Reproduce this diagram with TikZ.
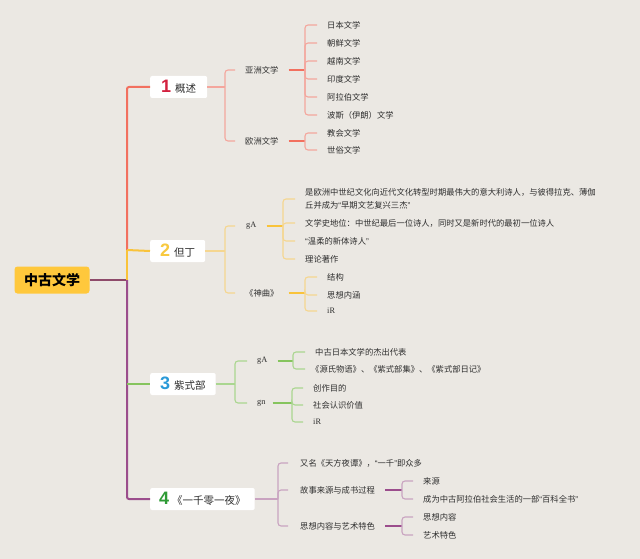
\documentclass[tikz,border=0pt]{standalone}
\usepackage{fontspec}
\setmainfont{Liberation Serif}
\newfontfamily\cjk{Noto Sans CJK SC}
\newfontfamily\numf{Liberation Sans}
\newcommand{\myLQ}{{\numf “}}
\newcommand{\myRQ}{{\numf ”}}
\definecolor{bg}{HTML}{EBE8E3}
\definecolor{rootfill}{HTML}{FFC83C}
\definecolor{txt}{HTML}{2E2E2E}
\definecolor{rootln}{HTML}{8E4A6A}
\definecolor{cA}{HTML}{F2705F}
\definecolor{cAl}{HTML}{F4A69D}
\definecolor{nA}{HTML}{D3213F}
\definecolor{cB}{HTML}{F9C33A}
\definecolor{cBl}{HTML}{F5D690}
\definecolor{nB}{HTML}{F8C93F}
\definecolor{cC}{HTML}{86C45E}
\definecolor{cCl}{HTML}{AAD690}
\definecolor{nC}{HTML}{2A9AD8}
\definecolor{cD}{HTML}{9B4D8C}
\definecolor{cDl}{HTML}{C9A3C0}
\definecolor{nD}{HTML}{2E9B35}
\begin{document}
\begin{tikzpicture}[x=1pt,y=-1pt,
  leaf/.style={anchor=west, inner sep=0pt, text=txt, font=\cjk\fontsize{8.3}{12.5}\selectfont},
  ser/.style={anchor=west, inner sep=0pt, text=txt, font=\fontsize{8.3}{10}\selectfont},
  boxnode/.style={anchor=west, fill=white, rounded corners=2pt, minimum height=22pt, inner ysep=0pt, text=txt, font=\cjk\fontsize{10.5}{12}\selectfont},
  trunk/.style={line width=2pt},
  br/.style={line width=1.1pt, rounded corners=3pt},
  stub/.style={line width=1.2pt}
]
\fill[bg] (0,0) rectangle (640,559);
\useasboundingbox (0,0) rectangle (640,559);

% root
\node[fill=rootfill, rounded corners=3pt, minimum width=75pt, minimum height=27pt, inner sep=0pt, font=\cjk\bfseries\fontsize{14}{16}\selectfont, text=black] (r) at (52,280) {中古文学};
\coordinate (t2) at (127,250);
\coordinate (t3) at (127,280);
\coordinate (t4) at (127,384);

% main boxes
\node[boxnode, inner xsep=11pt] (b1) at (150,87) {{\color{nA}\numf\bfseries\fontsize{18}{18}\selectfont 1}\hspace{4pt}概述};
\node[boxnode, inner xsep=10pt] (b2) at (150,251) {{\color{nB}\numf\bfseries\fontsize{18}{18}\selectfont 2}\hspace{4pt}但丁};
\node[boxnode, inner xsep=10pt] (b3) at (150,384) {{\color{nC}\numf\bfseries\fontsize{18}{18}\selectfont 3}\hspace{4pt}紫式部};
\node[boxnode, inner xsep=9pt] (b4) at (150,499) {{\color{nD}\numf\bfseries\fontsize{18}{18}\selectfont 4}\hspace{3pt}《一千零一夜》};

% trunk
\draw[trunk, rootln] (r.east) -- (t3);
\draw[trunk, cA, rounded corners=2pt] (t2) |- (b1.west);
\draw[trunk, cB] (t2) -- (t3);
\draw[trunk, cB] (t2) -- (b2.west);
\draw[trunk, cD, rounded corners=2pt] (t3) |- (b4.west);
\draw[trunk, cC] (t4) -- (b3.west);

% ---------- branch 1
\coordinate (j1) at (225,87);
\node[leaf] (asia) at (245,70) {亚洲文学};
\node[leaf] (euro) at (245,141) {欧洲文学};
\draw[stub, cAl] (b1.east) -- (j1);
\draw[br, cAl] (j1) |- ([xshift=-10pt]asia.west);
\draw[br, cAl] (j1) |- ([xshift=-10pt]euro.west);

\coordinate (ja) at (305,70);
\node[leaf] (a1) at (327,25) {日本文学};
\node[leaf] (a2) at (327,43) {朝鲜文学};
\node[leaf] (a3) at (327,61) {越南文学};
\node[leaf] (a4) at (327,79) {印度文学};
\node[leaf] (a5) at (327,97) {阿拉伯文学};
\node[leaf] (a6) at (327,115) {波斯（伊朗）文学};
\draw[stub, cA] ([xshift=10pt]asia.east) -- (ja);
\foreach \n in {a1,a2,a3,a4,a5,a6}{\draw[br, cAl] (ja) |- ([xshift=-10pt]\n.west);}

\coordinate (je) at (305,141);
\node[leaf] (e1) at (327,133) {教会文学};
\node[leaf] (e2) at (327,150) {世俗文学};
\draw[stub, cA] ([xshift=10pt]euro.east) -- (je);
\foreach \n in {e1,e2}{\draw[br, cAl] (je) |- ([xshift=-10pt]\n.west);}

% ---------- branch 2
\coordinate (j2) at (225,251);
\node[ser] (dA) at (246,226) {gA};
\node[leaf] (dB) at (245,293) {《神曲》};
\draw[stub, cBl] (b2.east) -- (j2);
\draw[br, cBl] (j2) |- ([xshift=-11pt]dA.west);
\draw[br, cBl] (j2) |- ([xshift=-10pt]dB.west);

\coordinate (jdA) at (283,226);
\node[leaf, align=left] (d1) at (305,199) {是欧洲中世纪文化向近代文化转型时期最伟大的意大利诗人，与彼得拉克、薄伽\\丘并成为\myLQ 早期文艺复兴三杰\myRQ};
\node[leaf] (d2) at (305,223) {文学史地位：中世纪最后一位诗人，同时又是新时代的最初一位诗人};
\node[leaf] (d3) at (305,241) {\myLQ 温柔的新体诗人\myRQ};
\node[leaf] (d4) at (305,259) {理论著作};
\draw[stub, cB] ([xshift=10pt]dA.east) -- (jdA);
\foreach \n in {d1,d2,d3,d4}{\draw[br, cBl] (jdA) |- ([xshift=-10pt]\n.west);}

\coordinate (jdB) at (305,293);
\node[leaf] (s1) at (327,277) {结构};
\node[leaf] (s2) at (327,295) {思想内涵};
\node[ser] (s3) at (327,311) {iR};
\draw[stub, cB] ([xshift=10pt]dB.east) -- (jdB);
\foreach \n in {s1,s2,s3}{\draw[br, cBl] (jdB) |- ([xshift=-10pt]\n.west);}

% ---------- branch 3
\coordinate (j3) at (235,384);
\node[ser] (mA) at (257,361) {gA};
\node[ser] (mB) at (257,403) {gn};
\draw[stub, cCl] (b3.east) -- (j3);
\draw[br, cCl] (j3) |- ([xshift=-10pt]mA.west);
\draw[br, cCl] (j3) |- ([xshift=-10pt]mB.west);

\coordinate (jmA) at (293,361);
\node[leaf] (m1) at (315,352) {中古日本文学的杰出代表};
\node[leaf] (m2) at (311,369) {《源氏物语》、《紫式部集》、《紫式部日记》};
\draw[stub, cC] ([xshift=10pt]mA.east) -- (jmA);
\draw[br, cCl] (jmA) |- ([xshift=-10pt]m1.west);
\draw[br, cCl] (jmA) |- ([xshift=-6pt]m2.west);

\coordinate (jmB) at (292,403);
\node[leaf] (m3) at (313,388) {创作目的};
\node[leaf] (m4) at (313,405) {社会认识价值};
\node[ser] (m5) at (313,422) {iR};
\draw[stub, cC] ([xshift=7pt]mB.east) -- (jmB);
\foreach \n in {m3,m4,m5}{\draw[br, cCl] (jmB) |- ([xshift=-10pt]\n.west);}

% ---------- branch 4
\coordinate (j4) at (278,499);
\node[leaf] (k1) at (300,463) {又名《天方夜谭》，\myLQ 一千\myRQ 即众多};
\node[leaf] (k2) at (300,490) {故事来源与成书过程};
\node[leaf] (k3) at (300,526) {思想内容与艺术特色};
\draw[stub, cDl] (b4.east) -- (j4);
\foreach \n in {k1,k2,k3}{\draw[br, cDl] (j4) |- ([xshift=-12pt]\n.west);}

\coordinate (jk2) at (402,490);
\node[leaf] (k21) at (423,481) {来源};
\node[leaf] (k22) at (423,499) {成为中古阿拉伯社会生活的一部\myLQ 百科全书\myRQ};
\draw[stub, cD] ([xshift=10pt]k2.east) -- (jk2);
\foreach \n in {k21,k22}{\draw[br, cDl] (jk2) |- ([xshift=-10pt]\n.west);}

\coordinate (jk3) at (402,526);
\node[leaf] (k31) at (423,517) {思想内容};
\node[leaf] (k32) at (423,535) {艺术特色};
\draw[stub, cD] ([xshift=10pt]k3.east) -- (jk3);
\foreach \n in {k31,k32}{\draw[br, cDl] (jk3) |- ([xshift=-10pt]\n.west);}
\end{tikzpicture}
\end{document}
